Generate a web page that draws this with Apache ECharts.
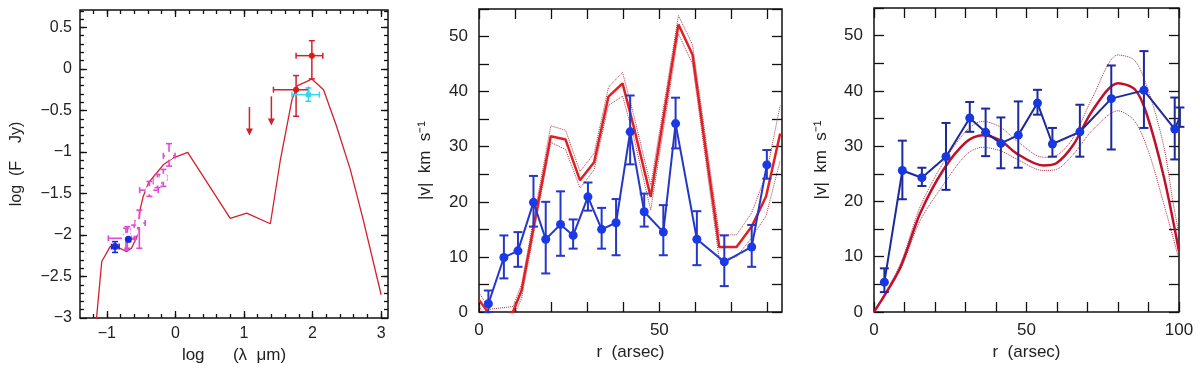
<!DOCTYPE html>
<html>
<head>
<meta charset="utf-8">
<script src="https://cdn.jsdelivr.net/npm/echarts@6/dist/echarts.min.js"></script>
<style>
  html, body { margin: 0; padding: 0; background: #fff; }
  #main { width: 1200px; height: 371px; }
</style>
</head>
<body>
<div id="main"></div>
<script>
// ---- panel 1 : SED (log lambda, log F) ----
const sedModel = [[-1.16, -3.1], [-1.073, -2.32], [-0.95, -2.14], [-0.88, -2.13], [-0.71, -2.20],
  [-0.64, -2.16], [-0.56, -2.02], [-0.51, -1.68], [-0.47, -1.54], [-0.39, -1.37], [-0.27, -1.25],
  [-0.17, -1.15], [-0.03, -1.07], [0.18, -1.005], [0.8, -1.80], [1.04, -1.736], [1.385, -1.865],
  [1.53, -1.10], [1.70, -0.37], [1.78, -0.20], [1.92, -0.15], [1.99, -0.12], [2.16, -0.25],
  [2.35, -0.69], [2.55, -1.21], [2.74, -1.82], [3.0, -2.72]];
// x, y, xlo, xhi, ylo, yhi
const sedBlue = [[-0.88, -2.14, -0.93, -0.82, -2.21, -2.08], [-0.685, -2.05, -0.71, -0.66, -2.08, -2.02]];
const sedMagenta = [[-0.72, -2.04, -0.977, -0.587, -2.18, -1.92], [-0.70, -2.02, -0.75, -0.65, -2.16, -1.90],
  [-0.60, -1.96, -0.65, -0.55, -2.05, -1.88], [-0.525, -1.856, -0.587, -0.44, -2.16, -1.70],
  [-0.378, -1.46, -0.52, -0.25, -1.535, -1.355], [-0.26, -1.355, -0.32, -0.20, -1.43, -1.27],
  [-0.175, -1.31, -0.23, -0.125, -1.415, -1.21], [-0.092, -1.046, -0.175, -0.004, -1.17, -0.90]];
const sedRed = [[1.99, 0.16, 1.76, 2.15, -0.12, 0.34], [1.76, -0.25, 1.43, 1.94, -0.57, -0.08]];
const sedCyan = [[1.94, -0.31, 1.70, 2.10, -0.39, -0.23]];
// x, top, arrow tip
const sedLimits = [[1.08, -0.46, -0.79], [1.40, -0.33, -0.67]];

// ---- panel 2 : |v| vs r ----
// r, v, vlo, vhi
const vel2Obs = [[2.6, 1.5, 0, 3.9], [6.9, 9.9, 6.1, 13.9], [10.8, 11.1, 8.2, 14.5], [15.1, 19.9, 15.5, 24.7],
  [18.5, 13.2, 7.0, 20.0], [22.6, 15.9, 10.2, 21.9], [26.1, 13.9, 11.5, 16.8], [30.2, 20.9, 18.4, 23.5],
  [34.0, 15.0, 11.5, 18.9], [38.0, 16.2, 10.3, 20.5], [41.9, 32.7, 26.8, 39.3], [45.8, 18.2, 15.5, 21.5],
  [51.1, 14.5, 10.3, 19.4], [54.5, 34.2, 29.7, 38.9], [60.4, 13.2, 8.5, 18.3], [68.0, 9.1, 4.7, 13.9],
  [75.6, 11.8, 8.2, 15.8], [79.8, 26.7, 24.2, 29.4]];
const vel2Model = [[0, 2.2], [3, -0.5], [6, -2], [9.4, 0], [11.8, 3.9], [19.9, 31.9], [24, 31.3], [28, 23.9],
  [31.9, 27.2], [35.9, 39.1], [39.8, 41.5], [42.8, 33.9], [47.6, 20.9], [55.3, 52.2], [59.2, 46.7],
  [66.6, 11.8], [71.4, 11.8], [75.6, 15.5], [79.6, 21.0], [83.5, 32.4]];
const vel2Upper = [[0, 3.5], [3, 0.5], [9.4, 1], [11.8, 5], [19.9, 33.8], [24, 33.0], [28, 25.5],
  [31.9, 28.8], [35.9, 40.8], [39.8, 43.5], [42.8, 36], [47.6, 23], [55.3, 53.8], [59.2, 48.5],
  [66.6, 14], [71.4, 14], [75.6, 18], [79.6, 25], [83.5, 37.5]];
const vel2Lower = [[0, 1], [3, -1.5], [9.4, -1], [11.8, 2.5], [19.9, 30.8], [24, 29.5], [28, 22.5],
  [31.9, 25.8], [35.9, 37.5], [39.8, 39.2], [42.8, 32], [47.6, 18.5], [55.3, 50.5], [59.2, 45],
  [66.6, 9.5], [71.4, 10], [75.6, 13.5], [79.6, 17.5], [83.5, 27.5]];

// ---- panel 3 : |v| vs r ----
const vel3Obs = [[3.4, 5.4, 3.6, 7.9], [9.3, 25.6, 20.4, 31.0], [15.7, 24.3, 22.8, 26.1], [23.6, 28.1, 22.1, 34.2],
  [31.4, 35.1, 32.6, 38.0], [36.6, 32.5, 28.2, 36.8], [41.6, 30.5, 26.0, 35.2], [47.3, 32.0, 26.1, 38.1],
  [53.6, 37.8, 35.7, 40.2], [58.5, 30.4, 28.1, 33.3], [67.5, 32.6, 28.1, 37.5], [77.8, 38.6, 29.4, 44.6],
  [88.5, 40.1, 33.3, 47.2], [98.6, 33.1, 27.6, 38.8], [100.3, 35.3, 33.5, 37.0]];
const vel3Model = [[0, 0], [8.5, 7.9], [15.1, 17.8], [22.7, 25.7], [30.3, 30.8], [35.6, 32.0], [41.3, 31.1],
  [46.7, 28.7], [55.5, 26.5], [59.8, 26.9], [65.3, 30.2], [71.8, 36.6], [80.0, 41.4], [85.5, 40.3],
  [89.3, 36.0], [95, 24.5], [100, 11]];
const vel3Upper = [[0, 0], [8.5, 8.5], [15.1, 19], [22.7, 27], [30.3, 32.8], [35.6, 34.5], [41.3, 33.5],
  [46.7, 31], [55.5, 28], [59.8, 28.3], [65.3, 31.5], [71.8, 39], [80, 46.5], [85.5, 45.5], [90, 40],
  [95, 30], [98, 20], [100, 14]];
const vel3Lower = [[0, 0], [8.5, 7.5], [15.1, 16.5], [22.7, 23], [30.3, 28.5], [35.6, 29.8], [41.3, 29.2],
  [46.7, 27.7], [55.5, 25.6], [59.8, 25.8], [65.3, 28.5], [71.8, 33], [80, 36.4], [85.5, 34.5],
  [90, 29], [94.8, 20], [100, 9.5]];

// tick values / labels
const sedXLabels = [-1, 0, 1, 2, 3];
const sedYLabels = [-3, -2.5, -2, -1.5, -1, -0.5, 0, 0.5];
const vel2XLabels = [0, 50];
const vel3XLabels = [0, 50, 100];
const velYLabels = [0, 10, 20, 30, 40, 50];

function range(a, b, s) {
  const out = [];
  for (let v = a; v <= b + 1e-9; v += s) out.push(Math.round(v * 1000) / 1000);
  return out;
}

const FONT = 'Liberation Sans';
const xAxes = [], yAxes = [];

function addAxes(kind, grid, o) {
  const list = kind === 'x' ? xAxes : yAxes;
  const sides = kind === 'x' ? ['bottom', 'top'] : ['left', 'right'];
  const mainIdx = list.length;
  sides.forEach((pos, si) => {
    [[o.major, o.majorLen], [o.minor, o.minorLen]].forEach(([vals, len], ti) => {
      if (!vals || !vals.length) return;
      const ax = {
        gridIndex: grid, type: 'value', min: o.min, max: o.max, position: pos,
        splitLine: { show: false }, axisLine: { show: false, onZero: false },
        axisTick: { show: true, inside: true, length: len, customValues: vals, lineStyle: { color: '#111', width: 1.3 } },
        axisLabel: { show: false }
      };
      if (si === 0 && ti === 0) {
        ax.axisLabel = {
          show: true, customValues: o.labels, margin: o.labelMargin, fontFamily: FONT,
          fontSize: o.fontSize, color: '#222',
          formatter: v => String(v).replace('-', '\u2212')
        };
        ax.name = o.name;
        ax.nameLocation = 'middle';
        ax.nameGap = o.nameGap;
        ax.nameTextStyle = { fontFamily: FONT, fontSize: o.nameSize, color: '#222' };
      }
      list.push(ax);
    });
  });
  return mainIdx;
}

const grids = [
  { left: 80, top: 10, width: 308, height: 308 },
  { left: 479, top: 9, width: 303, height: 303 },
  { left: 874, top: 8, width: 305, height: 304 }
].map(g => Object.assign(g, { show: true, borderColor: '#111', borderWidth: 1.5, backgroundColor: '#fff' }));

const x1 = addAxes('x', 0, { min: -1.39, max: 3.1, major: sedXLabels, minor: range(-1.2, 3.0, 0.2), labels: sedXLabels,
  majorLen: 7, minorLen: 4, labelMargin: 8, fontSize: 16, name: 'log      (\u03bb  \u03bcm)', nameGap: 28, nameSize: 17 });
const y1 = addAxes('y', 0, { min: -3, max: 0.71, major: sedYLabels, minor: range(-2.9, 0.7, 0.1), labels: sedYLabels,
  majorLen: 7, minorLen: 4, labelMargin: 8, fontSize: 16, name: 'log  (F    Jy)', nameGap: 55, nameSize: 16 });
const x2 = addAxes('x', 1, { min: 0, max: 84, major: range(0, 80, 10), labels: vel2XLabels,
  majorLen: 10, labelMargin: 10, fontSize: 17, name: 'r  (arsec)', nameGap: 30, nameSize: 17 });
const y2 = addAxes('y', 1, { min: 0, max: 55, major: range(0, 55, 5), labels: velYLabels,
  majorLen: 10, labelMargin: 11, fontSize: 17, name: '|v|  km  s\u207b\u00b9', nameGap: 45, nameSize: 17 });
const x3 = addAxes('x', 2, { min: 0, max: 100, major: range(0, 100, 10), labels: vel3XLabels,
  majorLen: 10, labelMargin: 10, fontSize: 17, name: 'r  (arsec)', nameGap: 30, nameSize: 17 });
const y3 = addAxes('y', 2, { min: 0, max: 55, major: range(0, 55, 5), labels: velYLabels,
  majorLen: 10, labelMargin: 11, fontSize: 17, name: '|v|  km  s\u207b\u00b9', nameGap: 44, nameSize: 17 });

// error bars: item = [x, y, xlo, xhi, ylo, yhi] (xlo/xhi may be null)
function errBars(xi, yi, data, color, cap, width) {
  return {
    type: 'custom', xAxisIndex: xi, yAxisIndex: yi, data: data, z: 3, silent: true,
    encode: { x: 0, y: 1 },
    renderItem: function (params, api) {
      const x = api.value(0), y = api.value(1);
      const st = { stroke: color, lineWidth: width };
      const kids = [];
      const a = api.coord([x, api.value(4)]), b = api.coord([x, api.value(5)]);
      kids.push({ type: 'line', shape: { x1: a[0], y1: a[1], x2: b[0], y2: b[1] }, style: st });
      kids.push({ type: 'line', shape: { x1: a[0] - cap, y1: a[1], x2: a[0] + cap, y2: a[1] }, style: st });
      kids.push({ type: 'line', shape: { x1: b[0] - cap, y1: b[1], x2: b[0] + cap, y2: b[1] }, style: st });
      if (data[params.dataIndex][2] != null) {
        const c = api.coord([api.value(2), y]), d = api.coord([api.value(3), y]);
        kids.push({ type: 'line', shape: { x1: c[0], y1: c[1], x2: d[0], y2: d[1] }, style: st });
        kids.push({ type: 'line', shape: { x1: c[0], y1: c[1] - cap, x2: c[0], y2: c[1] + cap }, style: st });
        kids.push({ type: 'line', shape: { x1: d[0], y1: d[1] - cap, x2: d[0], y2: d[1] + cap }, style: st });
      }
      return { type: 'group', children: kids };
    }
  };
}

function pts(xi, yi, data, symbol, size, color, border) {
  return {
    type: 'scatter', xAxisIndex: xi, yAxisIndex: yi, z: 4, silent: true,
    data: data.map(d => [d[0], d[1]]), symbol: symbol, symbolSize: size,
    itemStyle: { color: symbol === 'emptyCircle' ? '#fff' : color, borderColor: color, borderWidth: border || 0, opacity: 1 }
  };
}

function curve(xi, yi, data, color, width, type, smooth) {
  return {
    type: 'line', xAxisIndex: xi, yAxisIndex: yi, data: data, symbol: 'none', silent: true,
    smooth: smooth || false, clip: true, z: 2,
    lineStyle: { color: color, width: width, type: type || 'solid' }
  };
}

function velObs(xi, yi, data, lineColor, dotColor) {
  return [
    {
      type: 'line', xAxisIndex: xi, yAxisIndex: yi, data: data.map(d => [d[0], d[1]]), z: 4,
      symbol: 'circle', symbolSize: 9, clip: true, silent: true,
      lineStyle: { color: lineColor, width: 2 }, itemStyle: { color: dotColor }
    },
    errBars(xi, yi, data.map(d => [d[0], d[1], null, null, d[2], d[3]]), lineColor, 4.5, 2)
  ];
}

const limitSeries = {
  type: 'custom', xAxisIndex: x1, yAxisIndex: y1, data: sedLimits, z: 3, silent: true,
  encode: { x: 0, y: 1 },
  renderItem: function (params, api) {
    const a = api.coord([api.value(0), api.value(1)]), b = api.coord([api.value(0), api.value(2)]);
    const col = '#d4202a';
    return {
      type: 'group', children: [
        { type: 'line', shape: { x1: a[0], y1: a[1], x2: b[0], y2: b[1] - 4 }, style: { stroke: col, lineWidth: 1.5 } },
        { type: 'polygon', shape: { points: [[b[0] - 3.5, b[1] - 6], [b[0] + 3.5, b[1] - 6], [b[0], b[1] + 1]] }, style: { fill: col } }
      ]
    };
  }
};

const series = [
  curve(x1, y1, sedModel, '#d3202c', 1.3),
  limitSeries,
  errBars(x1, y1, sedMagenta, '#e048d8', 3, 1.6),
  pts(x1, y1, sedMagenta, 'emptyCircle', 6, '#e048d8', 1.4),
  errBars(x1, y1, sedBlue, '#1a2ad8', 3, 1.6),
  pts(x1, y1, sedBlue, 'circle', 7, '#1a2ad8'),
  errBars(x1, y1, sedRed, '#d4202a', 3, 1.5),
  pts(x1, y1, sedRed, 'circle', 6, '#e01818'),
  errBars(x1, y1, sedCyan, '#30d8f0', 3, 1.5),
  pts(x1, y1, sedCyan, 'circle', 6, '#30d8f0'),

  curve(x2, y2, vel2Upper, '#a83c4c', 1, 'dotted'),
  curve(x2, y2, vel2Lower, '#a83c4c', 1, 'dotted'),
  curve(x2, y2, vel2Model, '#e02024', 2.5),
  ...velObs(x2, y2, vel2Obs, '#2437c8', '#1a3ae8'),

  curve(x3, y3, vel3Upper, '#a83040', 1, 'dotted', 0.3),
  curve(x3, y3, vel3Lower, '#a83040', 1, 'dotted', 0.3),
  curve(x3, y3, vel3Model, '#c0102a', 2.5, 'solid', 0.3),
  ...velObs(x3, y3, vel3Obs, '#1c2a9c', '#1738e0')
];

const chart = echarts.init(document.getElementById('main'));
chart.setOption({
  backgroundColor: '#fff',
  animation: false,
  grid: grids,
  xAxis: xAxes,
  yAxis: yAxes,
  series: series
});
</script>
</body>
</html>
